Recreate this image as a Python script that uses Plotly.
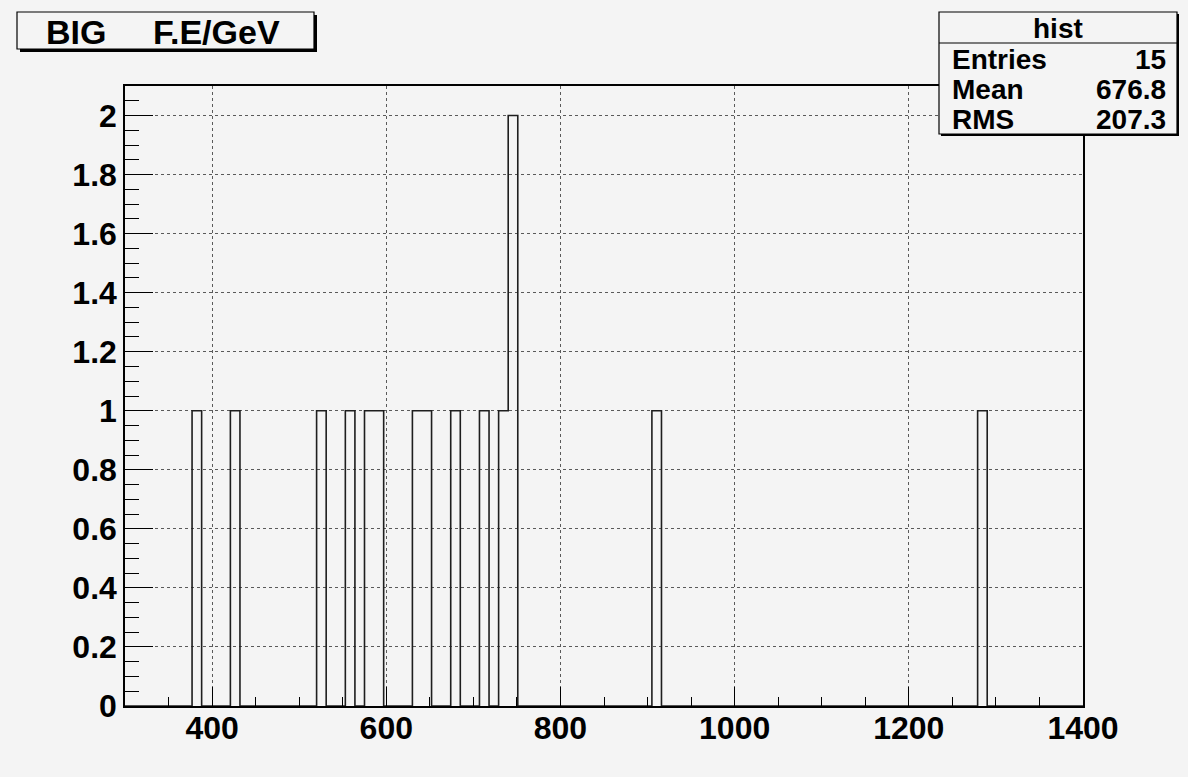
import numpy as np
import plotly.graph_objects as go

# Histogram definition: 100 bins between 300 and 1400 GeV
n_bins = 100
x_lo, x_hi = 300, 1400

# Non-empty bins (bin index) and their contents
filled_bins = [7, 11, 20, 23, 25, 26, 30, 31, 34, 37, 39, 40, 55, 89]
filled_counts = [1, 1, 1, 1, 1, 1, 1, 1, 1, 1, 1, 2, 1, 1]

# Statistics box contents
hist_name = "hist"
stat_labels = ["Entries", "Mean", "RMS"]
stat_values = ["15", "676.8", "207.3"]

title_parts = ["BIG", "F.E/GeV"]

counts = np.zeros(n_bins)
counts[filled_bins] = filled_counts
edges = np.linspace(x_lo, x_hi, n_bins + 1)

# Step outline: each point starts a bin, last point closes the final bin
step_x = edges
step_y = np.append(counts, counts[-1])

W, H = 1188, 777
ML, MR, MT, MB = 125, 105, 86, 71
PW, PH = W - ML - MR, H - MT - MB
BG = "#f4f4f4"
FONT = "Liberation Sans, Arial, sans-serif"


def px(x):
    return (x - ML) / PW


def py(y):
    return 1 - (y - MT) / PH


fig = go.Figure()
fig.add_trace(go.Scatter(
    x=step_x, y=step_y, mode="lines", line_shape="hv",
    line=dict(color="#1e1e1e", width=1.6), hoverinfo="skip",
    showlegend=False,
))

axis_common = dict(
    showline=True, linecolor="black", linewidth=1.5, mirror=True,
    ticks="inside", tickcolor="black", tickwidth=1.2,
    showgrid=True, gridcolor="#5a5a5a", gridwidth=1, griddash="dot",
    zeroline=False,
    tickfont=dict(family=FONT, size=32, color="black", weight="bold"),
)

fig.update_xaxes(
    range=[x_lo, x_hi], tick0=0, dtick=200, ticklen=19,
    minor=dict(dtick=50, ticklen=9, ticks="inside", tickcolor="black",
               tickwidth=1.2, showgrid=False),
    ticklabelstandoff=-7,
    **axis_common,
)
fig.update_yaxes(
    range=[0, 2.1], tick0=0, dtick=0.2, ticklen=28,
    minor=dict(dtick=0.05, ticklen=14, ticks="inside", tickcolor="black",
               tickwidth=1.2, showgrid=False),
    ticklabelstandoff=0,
    **axis_common,
)

shapes = []
annotations = []


def pave(x0, y0, x1, y1, shadow=3):
    shapes.append(dict(type="rect", xref="paper", yref="paper",
                       x0=px(x0 + shadow), x1=px(x1 + shadow),
                       y0=py(y1 + shadow), y1=py(y0 + shadow),
                       fillcolor="black", line=dict(width=0), layer="above"))
    shapes.append(dict(type="rect", xref="paper", yref="paper",
                       x0=px(x0), x1=px(x1), y0=py(y1), y1=py(y0),
                       fillcolor=BG, line=dict(color="black", width=1.2),
                       layer="above"))


title_font = dict(family=FONT, size=34, color="black", weight="bold")

# Title pave
pave(17, 12, 314, 49)
annotations.append(dict(text=title_parts[0], x=px(44), y=py(32), xref="paper",
                        yref="paper", xanchor="left", yanchor="middle",
                        showarrow=False, font=title_font))
annotations.append(dict(text=title_parts[1], x=px(151), y=py(32),
                        xref="paper", yref="paper", xanchor="left",
                        yanchor="middle", showarrow=False, font=title_font))

# Statistics pave
pave(939, 12, 1177, 134, shadow=2)
shapes.append(dict(type="line", xref="paper", yref="paper",
                   x0=px(939), x1=px(1177), y0=py(43), y1=py(43),
                   line=dict(color="black", width=1.2), layer="above"))
stat_font = dict(family=FONT, size=28, color="black", weight="bold")
annotations.append(dict(text=hist_name, x=px(1058), y=py(28), xref="paper",
                        yref="paper", xanchor="center", yanchor="middle",
                        showarrow=False, font=stat_font))
for i, (lab, val) in enumerate(zip(stat_labels, stat_values)):
    yc = 59 + 30 * i
    annotations.append(dict(text=lab, x=px(950), y=py(yc), xref="paper",
                            yref="paper", xanchor="left", yanchor="middle",
                            showarrow=False, font=stat_font))
    annotations.append(dict(text=val, x=px(1168), y=py(yc), xref="paper",
                            yref="paper", xanchor="right", yanchor="middle",
                            showarrow=False, font=stat_font))

fig.update_layout(
    width=W, height=H,
    margin=dict(l=ML, r=MR, t=MT, b=MB),
    paper_bgcolor=BG, plot_bgcolor=BG,
    shapes=shapes, annotations=annotations,
    showlegend=False,
)

fig.write_html("out.html")
